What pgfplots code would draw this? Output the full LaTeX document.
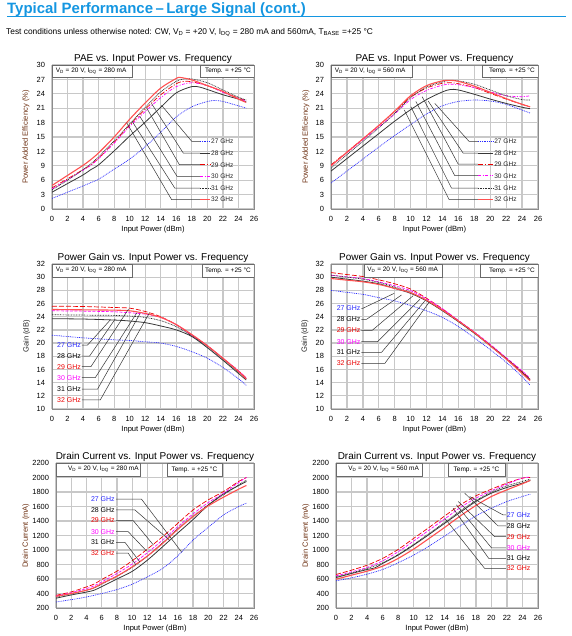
\documentclass[border=0pt]{standalone}
\usepackage{fontspec}
\setmainfont{Liberation Sans}
\usepackage{pgfplots}
\pgfplotsset{compat=1.18}
\definecolor{hdrblue}{RGB}{20,150,225}
\definecolor{c27}{RGB}{80,80,255}
\definecolor{c28}{RGB}{55,55,55}
\definecolor{c29}{RGB}{235,0,0}
\definecolor{c30}{RGB}{255,0,255}
\definecolor{c31}{RGB}{45,45,45}
\definecolor{c32}{RGB}{255,80,80}
\definecolor{gridc}{RGB}{200,200,200}
\definecolor{framec}{RGB}{140,140,140}
\definecolor{boxc}{RGB}{105,105,105}
\definecolor{labbrown}{RGB}{110,50,20}
\definecolor{lt27}{RGB}{40,40,255}
\tikzset{
  s27/.style={lt27, line width=0.7bp, dash pattern=on 0.9bp off 0.9bp},
  s28/.style={c28, line width=0.8bp},
  s29/.style={c29, line width=0.7bp, dash pattern=on 5bp off 1.8bp on 1bp off 1.8bp},
  s30/.style={c30, line width=0.7bp, dash pattern=on 3bp off 1.5bp on 1bp off 1.5bp},
  s31/.style={c31, line width=0.7bp, dash pattern=on 0.8bp off 0.8bp},
  s32/.style={c32, line width=1.1bp},
  g29/.style={c29, line width=0.7bp, dash pattern=on 5bp off 2bp},
  g30/.style={c30, line width=0.7bp, dash pattern=on 3bp off 1.5bp},
  lead/.style={black!80, line width=0.5bp},
  leg/.style={anchor=west, font=\fontsize{6.6}{8}\selectfont, inner sep=0.5bp, text=black!85},
  lab/.style={font=\fontsize{7}{8}\selectfont, inner sep=0.5bp},
  box/.style={fill=white, draw=boxc, line width=0.6bp},
  boxt/.style={font=\fontsize{6.5}{8}\selectfont, inner sep=0pt},
}
\pgfplotsset{
  base/.style={
    scale only axis,
    xmin=0, xmax=26, xtick={0,2,...,26},
    grid=major, major grid style={gridc, line width=1.3bp},
    axis line style={framec, line width=0.9bp},
    major tick length=0pt,
    tick label style={font=\fontsize{7.5}{9}\selectfont, text=black},
    /pgf/number format/assume math mode=true,
    /pgf/number format/1000 sep={},
    xticklabel style={yshift=-3.5bp},
    yticklabel style={xshift=-3.5bp},
    every axis title/.style={font=\fontsize{10}{12}\selectfont, anchor=base, at={(0.5,1)}, yshift=3.5bp, inner sep=0pt},
    xlabel={Input Power (dBm)},
    every axis x label/.style={font=\fontsize{7.6}{9}\selectfont, at={(axis description cs:0.5,0)}, anchor=base, yshift=-22bp, inner sep=0pt},
    clip=true,
  },
  ylab/.style={every axis y label/.style={at={(axis description cs:#1,0.5)}, rotate=90, anchor=center, font=\fontsize{7.6}{9}\selectfont}},
}
\begin{document}
\begin{tikzpicture}
\path[use as bounding box] (0,0) rectangle (572bp,-636bp);
\node[anchor=base west, font=\fontsize{15}{17}\selectfont\bfseries, text=hdrblue, inner sep=0pt] at (7bp,-13.5bp) {Typical Performance\,–\,Large Signal (cont.)};
\draw[hdrblue, line width=1.3bp] (7bp,-16.8bp) -- (566bp,-16.8bp);
\node[anchor=base west, font=\fontsize{8.4}{10}\selectfont, inner sep=0pt] at (6bp,-34bp) {Test conditions unless otherwise noted: CW, V\textsubscript{D} = +20 V, I\textsubscript{DQ} = 280 mA and 560mA, T\textsubscript{BASE} =+25 °C};

% ---------------- Top left: PAE 280 mA
\begin{axis}[base, ylab=-0.129, width=202bp, height=144bp, at={(52bp,-209bp)}, anchor=south west,
  ymin=0, ymax=30, ytick={0,3,...,30},
  title={PAE vs. Input Power vs. Frequency},
  ylabel={Power Added Efficiency (\%)}, ylabel style={text=labbrown}]
\addplot[s27, smooth] coordinates {(0,2.2) (2,3.5) (4,4.8) (5,5.5) (6,6.2) (8,8.3) (10,10.4) (12,13.0) (14,16.0) (16,19.2) (18,21.3) (20,22.4) (21,22.6) (22,22.4) (24,21.5) (25,21.0)};
\addplot[s28, smooth] coordinates {(0,3.5) (2,5.3) (4,7.1) (5,8.2) (6,9.2) (8,12.1) (10,15.2) (12,18.1) (14,21.2) (16,24.2) (18,25.5) (19,25.4) (20,24.9) (22,23.8) (24,22.9) (25,22.3)};
\addplot[s29, smooth] coordinates {(0,4.4) (2,6.3) (4,8.2) (5,9.2) (6,10.6) (8,13.9) (10,17.5) (12,20.8) (14,23.8) (16,26.1) (17,26.6) (18,26.5) (20,25.7) (22,24.4) (24,23.1) (25,22.6)};
\addplot[s30, smooth] coordinates {(0,4.2) (2,6.1) (4,8.1) (5,9.1) (6,10.5) (8,13.7) (10,17.2) (12,20.3) (14,23.2) (16,25.5) (18,26.3) (20,25.7) (22,24.3) (24,23.0) (25,22.5)};
\addplot[s31, smooth] coordinates {(0,4.0) (2,6.0) (4,8.2) (5,9.4) (6,10.9) (8,14.2) (10,17.7) (12,21.2) (14,24.4) (16,26.6) (17,27.1) (18,27.1) (20,26.3) (22,24.8) (24,23.3) (25,22.7)};
\addplot[s32, smooth] coordinates {(0,4.9) (2,7.0) (4,9.1) (5,10.3) (6,11.7) (8,15.0) (10,18.7) (12,22.1) (14,25.2) (16,27.2) (16.5,27.4) (18,26.9) (20,25.7) (22,24.5) (24,22.9) (25,22.2)};
\draw[lead] (axis cs:19.06,14.07) -- (axis cs:18.0,14.07) -- (axis cs:14.1,21.6);
\draw[lead] (axis cs:19.06,11.64) -- (axis cs:16.9,11.64) -- (axis cs:12.8,22.0);
\draw[lead] (axis cs:19.06,9.22) -- (axis cs:16.4,9.22) -- (axis cs:12.2,21.0);
\draw[lead] (axis cs:19.06,6.79) -- (axis cs:16.1,6.79) -- (axis cs:11.3,19.3);
\draw[lead] (axis cs:19.06,4.37) -- (axis cs:15.8,4.37) -- (axis cs:10.3,18.3);
\draw[lead] (axis cs:19.06,1.94) -- (axis cs:15.4,1.94) -- (axis cs:9.6,18.0);
\draw[s27] (axis cs:19.06,14.07) -- (axis cs:20.34,14.07); \node[leg] at (axis cs:20.4,14.07) {27 GHz};
\draw[s28, line width=1.2bp] (axis cs:19.06,11.64) -- (axis cs:20.34,11.64); \node[leg] at (axis cs:20.4,11.64) {28 GHz};
\draw[s29] (axis cs:19.06,9.22) -- (axis cs:20.34,9.22); \node[leg] at (axis cs:20.4,9.22) {29 GHz};
\draw[s30] (axis cs:19.06,6.79) -- (axis cs:20.34,6.79); \node[leg] at (axis cs:20.4,6.79) {30 GHz};
\draw[s31] (axis cs:19.06,4.37) -- (axis cs:20.34,4.37); \node[leg] at (axis cs:20.4,4.37) {31 GHz};
\draw[s32, line width=1.6bp] (axis cs:19.06,1.94) -- (axis cs:20.34,1.94); \node[leg] at (axis cs:20.4,1.94) {32 GHz};
\draw[box] (rel axis cs:0,1) rectangle (rel axis cs:0.396,0.917);
\node[boxt, anchor=west] at (rel axis cs:0.018,0.958) {V\textsubscript{D} = 20 V, I\textsubscript{DQ} = 280 mA};
\draw[box] (rel axis cs:0.733,1) rectangle (rel axis cs:1,0.917);
\node[boxt, anchor=east] at (rel axis cs:0.985,0.958) {Temp. = +25 °C};
\end{axis}

% ---------------- Top right: PAE 560 mA
\begin{axis}[base, ylab=-0.121, width=207bp, height=144bp, at={(331bp,-209bp)}, anchor=south west,
  ymin=0, ymax=30, ytick={0,3,...,30},
  title={PAE vs. Input Power vs. Frequency},
  ylabel={Power Added Efficiency (\%)}, ylabel style={text=labbrown}]
\addplot[s27, smooth] coordinates {(0,5.4) (2,7.9) (4,10.4) (6,12.9) (8,15.3) (10,17.6) (12,19.8) (14,21.5) (16,22.4) (18,22.7) (20,22.5) (22,21.8) (24,20.6) (25,20.0)};
\addplot[s28, smooth] coordinates {(0,7.9) (2,10.5) (4,13.1) (6,15.7) (8,18.3) (10,20.7) (12,22.8) (14,24.4) (15,24.9) (16,24.8) (18,23.9) (20,22.9) (22,22.0) (24,21.2) (25,20.9)};
\addplot[s29, smooth] coordinates {(0,9.2) (2,11.9) (4,14.6) (6,17.4) (8,20.3) (10,23.3) (12,25.2) (14,26.2) (15,26.3) (16,26.1) (18,25.3) (20,24.1) (22,22.9) (24,21.8) (25,21.3)};
\addplot[s30, smooth] coordinates {(0,9.0) (2,11.7) (4,14.4) (6,17.1) (8,19.8) (10,22.8) (12,24.7) (14,25.8) (15,26.0) (16,25.9) (18,25.3) (20,24.4) (22,23.6) (24,23.4) (25,23.6)};
\addplot[s31, smooth] coordinates {(0,8.5) (2,11.3) (4,14.1) (6,16.9) (8,19.9) (10,23.2) (12,25.4) (14,26.5) (15,26.8) (16,26.7) (18,26.0) (20,24.8) (22,23.6) (24,22.8) (25,22.7)};
\addplot[s32, smooth] coordinates {(0,9.0) (2,11.8) (4,14.6) (6,17.4) (8,20.4) (10,23.6) (12,25.7) (14,26.7) (15,26.8) (16,26.6) (18,25.6) (20,24.3) (22,23.0) (24,21.8) (25,21.3)};
\draw[lead] (axis cs:18.48,14.07) -- (axis cs:17.35,14.07) -- (axis cs:13.04,22.0);
\draw[lead] (axis cs:18.48,11.64) -- (axis cs:16.6,11.64) -- (axis cs:12.2,22.5);
\draw[lead] (axis cs:18.48,9.36) -- (axis cs:15.97,9.36) -- (axis cs:11.45,23.4);
\draw[lead] (axis cs:18.48,6.93) -- (axis cs:15.55,6.93) -- (axis cs:10.66,22.4);
\draw[lead] (axis cs:18.48,4.37) -- (axis cs:15.13,4.37) -- (axis cs:10.03,21.3);
\draw[lead] (axis cs:18.48,1.94) -- (axis cs:14.84,1.94) -- (axis cs:9.2,20.65);
\draw[s27] (axis cs:18.48,14.07) -- (axis cs:20.36,14.07); \node[leg] at (axis cs:20.42,14.07) {27 GHz};
\draw[s28, line width=1.2bp] (axis cs:18.48,11.64) -- (axis cs:20.36,11.64); \node[leg] at (axis cs:20.42,11.64) {28 GHz};
\draw[s29] (axis cs:18.48,9.36) -- (axis cs:20.36,9.36); \node[leg] at (axis cs:20.42,9.36) {29 GHz};
\draw[s30] (axis cs:18.48,6.93) -- (axis cs:20.36,6.93); \node[leg] at (axis cs:20.42,6.93) {30 GHz};
\draw[s31] (axis cs:18.48,4.37) -- (axis cs:20.36,4.37); \node[leg] at (axis cs:20.42,4.37) {31 GHz};
\draw[s32, line width=1.6bp] (axis cs:18.48,1.94) -- (axis cs:20.36,1.94); \node[leg] at (axis cs:20.42,1.94) {32 GHz};
\draw[box] (rel axis cs:0,1) rectangle (rel axis cs:0.391,0.917);
\node[boxt, anchor=west] at (rel axis cs:0.018,0.958) {V\textsubscript{D} = 20 V, I\textsubscript{DQ} = 560 mA};
\draw[box] (rel axis cs:0.729,1) rectangle (rel axis cs:1,0.917);
\node[boxt, anchor=east] at (rel axis cs:0.985,0.958) {Temp. = +25 °C};
\end{axis}

% ---------------- Middle left: Gain 280 mA
\begin{axis}[base, ylab=-0.125, width=202bp, height=145bp, at={(52bp,-409bp)}, anchor=south west,
  ymin=10, ymax=32, ytick={10,12,...,32},
  title={Power Gain vs. Input Power vs. Frequency},
  ylabel={Gain (dB)}, ylabel style={text=black!85}]
\addplot[s27, smooth] coordinates {(0,21.2) (4,20.8) (8,20.5) (10,20.4) (12,20.2) (14,20.0) (16,19.5) (18,18.7) (20,17.7) (22,16.3) (24,14.6) (25,13.6)};
\addplot[s28, smooth] coordinates {(0,23.7) (4,23.65) (8,23.5) (10,23.35) (12,23.1) (14,22.6) (16,22.0) (18,21.0) (20,19.3) (22,17.4) (24,15.4) (25,14.4)};
\addplot[g29, smooth] coordinates {(0,25.6) (4,25.55) (8,25.4) (10,25.3) (12,24.8) (14,24.0) (16,22.8) (18,21.2) (20,19.6) (22,17.7) (24,15.8) (25,14.7)};
\addplot[g30, smooth] coordinates {(0,24.9) (4,24.85) (8,24.75) (10,24.6) (12,24.4) (14,23.9) (16,22.8) (18,21.2) (20,19.6) (22,17.7) (24,15.8) (25,14.7)};
\addplot[s31, smooth] coordinates {(0,24.3) (4,24.25) (8,24.2) (10,24.1) (12,23.9) (14,23.4) (16,22.5) (18,21.1) (20,19.5) (22,17.6) (24,15.6) (25,14.6)};
\addplot[s32, smooth] coordinates {(0,25.1) (4,25.05) (8,25.0) (10,24.9) (12,24.5) (14,23.9) (16,22.8) (18,21.3) (20,19.6) (22,17.7) (24,15.7) (25,14.55)};
\draw[lead] (axis cs:3.85,19.71) -- (axis cs:4.58,19.71) -- (axis cs:7.49,23.5);
\draw[lead] (axis cs:3.85,18.04) -- (axis cs:4.84,18.04) -- (axis cs:8.14,23.66);
\draw[lead] (axis cs:3.85,16.42) -- (axis cs:5.01,16.42) -- (axis cs:9.85,25.17);
\draw[lead] (axis cs:3.85,14.75) -- (axis cs:5.57,14.75) -- (axis cs:10.92,24.6);
\draw[lead] (axis cs:3.85,13.03) -- (axis cs:5.87,13.03) -- (axis cs:11.35,24.5);
\draw[lead] (axis cs:3.85,11.37) -- (axis cs:6.21,11.37) -- (axis cs:12.55,24.6);
\node[lab, anchor=east, text=lt27] at (axis cs:3.8,19.71) {27 GHz};
\node[lab, anchor=east, text=black] at (axis cs:3.8,18.04) {28 GHz};
\node[lab, anchor=east, text=c29] at (axis cs:3.8,16.42) {29 GHz};
\node[lab, anchor=east, text=c30] at (axis cs:3.8,14.75) {30 GHz};
\node[lab, anchor=east, text=black] at (axis cs:3.8,13.03) {31 GHz};
\node[lab, anchor=east, text=c29] at (axis cs:3.8,11.37) {32 GHz};
\draw[box] (rel axis cs:0,1) rectangle (rel axis cs:0.40,0.91);
\node[boxt, anchor=west] at (rel axis cs:0.018,0.955) {V\textsubscript{D} = 20 V, I\textsubscript{DQ} = 280 mA};
\draw[box] (rel axis cs:0.743,1) rectangle (rel axis cs:1,0.91);
\node[boxt, anchor=east] at (rel axis cs:0.985,0.955) {Temp. = +25 °C};
\end{axis}

% ---------------- Middle right: Gain 560 mA
\begin{axis}[base, ylab=-0.126, width=207bp, height=145bp, at={(331bp,-409bp)}, anchor=south west,
  ymin=10, ymax=32, ytick={10,12,...,32},
  title={Power Gain vs. Input Power vs. Frequency},
  ylabel={Gain (dB)}, ylabel style={text=black!85}]
\addplot[s27, smooth] coordinates {(0,28.0) (2,27.7) (4,27.4) (6,26.9) (8,26.4) (10,25.7) (12,24.9) (14,23.9) (16,22.5) (18,20.8) (20,19.0) (22,17.1) (24,14.9) (25,13.6)};
\addplot[s28, smooth] coordinates {(0,30.0) (2,29.7) (4,29.4) (6,29.0) (8,28.3) (10,27.55) (12,26.4) (14,24.9) (16,23.25) (18,21.5) (20,19.6) (22,17.6) (24,15.5) (25,14.4)};
\addplot[g29, smooth] coordinates {(0,30.7) (2,30.4) (4,30.1) (6,29.6) (8,29.0) (10,28.2) (12,26.8) (14,25.2) (16,23.4) (18,21.6) (20,19.7) (22,17.7) (24,15.7) (25,14.5)};
\addplot[g30, smooth] coordinates {(0,30.3) (2,30.05) (4,29.8) (6,29.3) (8,28.7) (10,27.96) (12,26.7) (14,25.2) (16,23.45) (18,21.7) (20,19.8) (22,17.8) (24,15.8) (25,14.65)};
\addplot[s31, smooth] coordinates {(0,30.3) (2,30.0) (4,29.7) (6,29.2) (8,28.5) (10,27.7) (12,26.5) (14,25.0) (16,23.35) (18,21.6) (20,19.7) (22,17.7) (24,15.6) (25,14.5)};
\addplot[s32, smooth] coordinates {(0,29.8) (2,29.55) (4,29.3) (6,28.9) (8,28.3) (10,27.65) (12,26.5) (14,25.0) (16,23.35) (18,21.6) (20,19.6) (22,17.6) (24,15.4) (25,14.3)};
\draw[lead] (axis cs:3.82,25.28) -- (axis cs:4.0,25.28) -- (axis cs:7.94,27.55);
\draw[lead] (axis cs:3.82,23.61) -- (axis cs:4.47,23.61) -- (axis cs:8.86,27.3);
\draw[lead] (axis cs:3.82,21.94) -- (axis cs:5.18,21.94) -- (axis cs:10.33,27.2);
\draw[lead] (axis cs:3.82,20.22) -- (axis cs:5.85,20.22) -- (axis cs:11.16,26.64);
\draw[lead] (axis cs:3.82,18.6) -- (axis cs:6.35,18.6) -- (axis cs:11.79,26.4);
\draw[lead] (axis cs:3.82,16.93) -- (axis cs:6.77,16.93) -- (axis cs:12.33,26.2);
\node[lab, anchor=east, text=lt27] at (axis cs:3.78,25.28) {27 GHz};
\node[lab, anchor=east, text=black] at (axis cs:3.78,23.61) {28 GHz};
\node[lab, anchor=east, text=c29] at (axis cs:3.78,21.94) {29 GHz};
\node[lab, anchor=east, text=c30] at (axis cs:3.78,20.22) {30 GHz};
\node[lab, anchor=east, text=black] at (axis cs:3.78,18.6) {31 GHz};
\node[lab, anchor=east, text=c29] at (axis cs:3.78,16.93) {32 GHz};
\draw[box] (rel axis cs:0.159,1) rectangle (rel axis cs:0.536,0.91);
\node[boxt, anchor=west] at (rel axis cs:0.175,0.955) {V\textsubscript{D} = 20 V, I\textsubscript{DQ} = 560 mA};
\draw[box] (rel axis cs:0.72,1) rectangle (rel axis cs:1,0.91);
\node[boxt, anchor=east] at (rel axis cs:0.985,0.955) {Temp. = +25 °C};
\end{axis}

% ---------------- Bottom left: Drain current 280 mA
\begin{axis}[base, ylab=-0.152, width=198bp, height=145bp, at={(56bp,-608bp)}, anchor=south west,
  ymin=200, ymax=2200, ytick={200,400,...,2200},
  title={Drain Current vs. Input Power vs. Frequency},
  ylabel={Drain Current (mA)}, ylabel style={text=labbrown}]
\addplot[s27, smooth] coordinates {(0,283) (2,315) (4,352) (5,375) (6,399) (8,454) (10,528) (12,630) (14,745) (16,920) (18,1138) (20,1313) (22,1484) (24,1600) (25,1646)};
\addplot[s28, smooth] coordinates {(0,335) (2,380) (4,420) (5,445) (6,495) (8,600) (10,705) (12,860) (14,1045) (16,1235) (18,1420) (20,1620) (22,1775) (24,1890) (25,1945)};
\addplot[g29, smooth] coordinates {(0,375) (2,422) (4,491) (5,530) (6,593) (8,708) (10,851) (12,1013) (14,1184) (16,1369) (18,1553) (20,1692) (22,1807) (24,1946) (25,2000)};
\addplot[g30, smooth] coordinates {(0,366) (2,410) (4,468) (5,505) (6,560) (8,676) (10,805) (12,962) (14,1138) (16,1322) (18,1498) (20,1655) (22,1784) (24,1932) (25,2000)};
\addplot[s31, smooth] coordinates {(0,352) (2,395) (4,445) (5,475) (6,528) (8,639) (10,759) (12,916) (14,1101) (16,1299) (18,1470) (20,1623) (22,1761) (24,1900) (25,1965)};
\addplot[s32, smooth] coordinates {(0,362) (2,400) (4,445) (5,480) (6,537) (8,639) (10,768) (12,916) (14,1091) (16,1285) (18,1461) (20,1609) (22,1729) (24,1840) (25,1890)};
\draw[lead] (axis cs:7.9,1701) -- (axis cs:11.23,1701) -- (axis cs:16.5,970);
\draw[lead] (axis cs:7.9,1553) -- (axis cs:10.36,1553) -- (axis cs:14.9,1137);
\draw[lead] (axis cs:7.9,1406) -- (axis cs:10.14,1406) -- (axis cs:12.8,1068);
\draw[lead] (axis cs:7.9,1253) -- (axis cs:9.48,1253) -- (axis cs:11.9,985);
\draw[lead] (axis cs:7.9,1106) -- (axis cs:9.05,1106) -- (axis cs:11.0,837);
\draw[lead] (axis cs:7.9,958) -- (axis cs:9.48,958) -- (axis cs:10.5,791);
\node[lab, anchor=east, text=lt27] at (axis cs:7.8,1701) {27 GHz};
\node[lab, anchor=east, text=black] at (axis cs:7.8,1553) {28 GHz};
\node[lab, anchor=east, text=c29] at (axis cs:7.8,1406) {29 GHz};
\node[lab, anchor=east, text=c30] at (axis cs:7.8,1253) {30 GHz};
\node[lab, anchor=east, text=black] at (axis cs:7.8,1106) {31 GHz};
\node[lab, anchor=east, text=c29] at (axis cs:7.8,958) {32 GHz};
\draw[box] (rel axis cs:0,1) rectangle (rel axis cs:0.424,0.91);
\node[boxt, anchor=west] at (rel axis cs:0.06,0.955) {V\textsubscript{D} = 20 V, I\textsubscript{DQ} = 280 mA};
\draw[box] (rel axis cs:0.56,1) rectangle (rel axis cs:0.838,0.91);
\node[boxt, anchor=center] at (rel axis cs:0.699,0.955) {Temp. = +25 °C};
\end{axis}

% ---------------- Bottom right: Drain current 560 mA
\begin{axis}[base, ylab=-0.149, width=202bp, height=145bp, at={(336bp,-608bp)}, anchor=south west,
  ymin=200, ymax=2200, ytick={200,400,...,2200},
  title={Drain Current vs. Input Power vs. Frequency},
  ylabel={Drain Current (mA)}, ylabel style={text=labbrown}]
\addplot[s27, smooth] coordinates {(0,574) (2,616) (4,667) (6,731) (8,824) (10,930) (12,1055) (14,1193) (16,1332) (18,1470) (20,1576) (22,1669) (24,1738) (25,1770)};
\addplot[s28, smooth] coordinates {(0,620) (2,676) (4,731) (5,754) (6,814) (8,930) (10,1068) (12,1216) (14,1369) (16,1521) (18,1669) (20,1784) (22,1863) (24,1923) (25,1960)};
\addplot[g29, smooth] coordinates {(0,662) (2,722) (4,791) (6,884) (8,1008) (10,1161) (12,1313) (14,1470) (16,1623) (18,1747) (20,1840) (22,1923) (24,1992) (25,2001)};
\addplot[g30, smooth] coordinates {(0,643) (2,699) (4,759) (6,851) (8,976) (10,1124) (12,1276) (14,1429) (16,1586) (18,1715) (20,1817) (22,1909) (24,1992) (25,2006)};
\addplot[s31, smooth] coordinates {(0,630) (2,685) (4,745) (6,824) (8,939) (10,1078) (12,1230) (14,1383) (16,1540) (18,1683) (20,1799) (22,1886) (24,1946) (25,1978)};
\addplot[s32, smooth] coordinates {(0,597) (2,653) (4,708) (6,777) (8,884) (10,1013) (12,1161) (14,1313) (16,1470) (18,1613) (20,1738) (22,1830) (24,1914) (25,1960)};
\draw[lead] (axis cs:21.85,1484) -- (axis cs:21.5,1484) -- (axis cs:17.2,1738);
\draw[lead] (axis cs:21.85,1332) -- (axis cs:20.86,1332) -- (axis cs:16.57,1784);
\draw[lead] (axis cs:21.85,1184) -- (axis cs:20.43,1184) -- (axis cs:15.72,1669);
\draw[lead] (axis cs:21.85,1031) -- (axis cs:20.0,1031) -- (axis cs:15.5,1623);
\draw[lead] (axis cs:21.85,884) -- (axis cs:19.66,884) -- (axis cs:15.07,1576);
\draw[lead] (axis cs:21.85,745) -- (axis cs:19.14,745) -- (axis cs:14.0,1438);
\node[lab, anchor=west, text=lt27] at (axis cs:21.9,1484) {27 GHz};
\node[lab, anchor=west, text=black] at (axis cs:21.9,1332) {28 GHz};
\node[lab, anchor=west, text=c29] at (axis cs:21.9,1184) {29 GHz};
\node[lab, anchor=west, text=c30] at (axis cs:21.9,1031) {30 GHz};
\node[lab, anchor=west, text=black] at (axis cs:21.9,884) {31 GHz};
\node[lab, anchor=west, text=c29] at (axis cs:21.9,745) {32 GHz};
\draw[box] (rel axis cs:0,1) rectangle (rel axis cs:0.426,0.91);
\node[boxt, anchor=west] at (rel axis cs:0.06,0.955) {V\textsubscript{D} = 20 V, I\textsubscript{DQ} = 560 mA};
\draw[box] (rel axis cs:0.554,1) rectangle (rel axis cs:0.837,0.91);
\node[boxt, anchor=center] at (rel axis cs:0.6955,0.955) {Temp. = +25 °C};
\end{axis}
\end{tikzpicture}
\end{document}
